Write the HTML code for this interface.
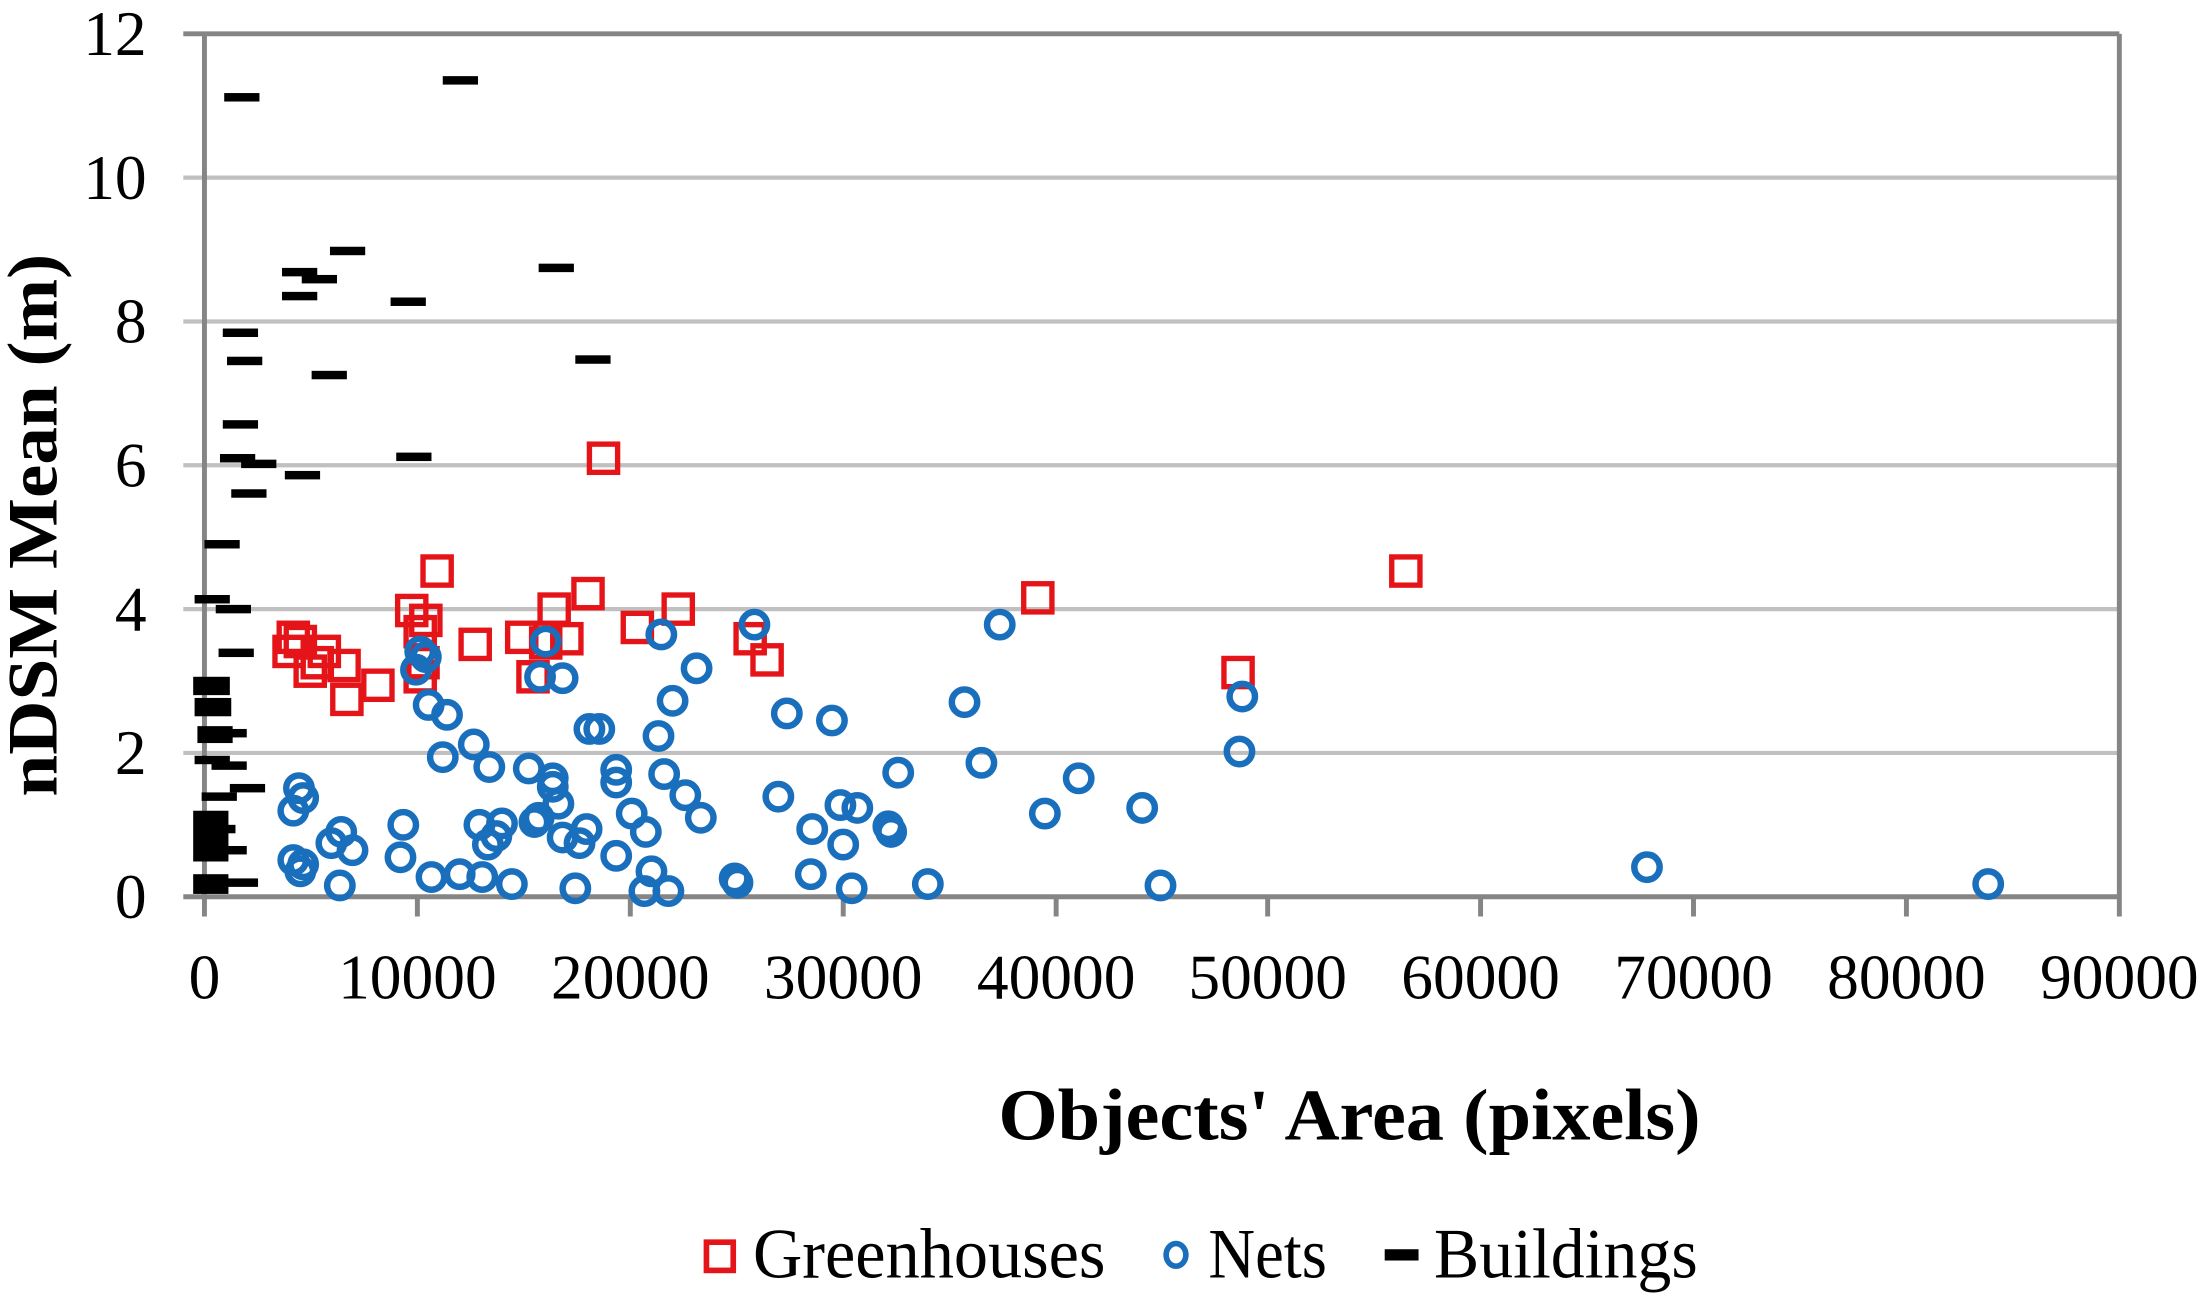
<!DOCTYPE html>
<html><head><meta charset="utf-8"><style>html,body{margin:0;padding:0;background:#fff;}svg{display:block;}</style></head>
<body>
<svg width="2211" height="1300" viewBox="0 0 1568 922" preserveAspectRatio="none" xmlns="http://www.w3.org/2000/svg" font-family="'Liberation Serif', serif">
<rect width="1568" height="922" fill="#fff"/>
<g stroke="#c0c0c0" stroke-width="3">
<line x1="130" y1="534" x2="1503" y2="534"/>
<line x1="130" y1="432" x2="1503" y2="432"/>
<line x1="130" y1="330" x2="1503" y2="330"/>
<line x1="130" y1="228" x2="1503" y2="228"/>
<line x1="130" y1="126" x2="1503" y2="126"/>
</g>
<g stroke="#858585" stroke-width="3.5">
<line x1="130" y1="24" x2="1503" y2="24"/>
<line x1="1503" y1="24" x2="1503" y2="650"/>
<line x1="130" y1="636" x2="1503" y2="636"/>
<line x1="145" y1="24" x2="145" y2="650"/>
<line x1="296" y1="636" x2="296" y2="650"/><line x1="447" y1="636" x2="447" y2="650"/><line x1="598" y1="636" x2="598" y2="650"/><line x1="749" y1="636" x2="749" y2="650"/><line x1="899" y1="636" x2="899" y2="650"/><line x1="1050" y1="636" x2="1050" y2="650"/><line x1="1201" y1="636" x2="1201" y2="650"/><line x1="1352" y1="636" x2="1352" y2="650"/>
</g>
<g font-size="45" text-anchor="end" fill="#000">
<text x="104" y="651">0</text><text x="104" y="549">2</text><text x="104" y="447">4</text><text x="104" y="345">6</text><text x="104" y="243">8</text><text x="104" y="141">10</text><text x="104" y="39">12</text>
</g>
<g font-size="45" text-anchor="middle" fill="#000">
<text x="145" y="708">0</text><text x="296" y="708">10000</text><text x="447" y="708">20000</text><text x="598" y="708">30000</text><text x="749" y="708">40000</text><text x="899" y="708">50000</text><text x="1050" y="708">60000</text><text x="1201" y="708">70000</text><text x="1352" y="708">80000</text><text x="1503" y="708">90000</text>
</g>
<text x="708" y="808" font-size="52" font-weight="bold" textLength="498" lengthAdjust="spacingAndGlyphs">Objects' Area (pixels)</text>
<text transform="translate(40,565) rotate(-90)" font-size="50" font-weight="bold" textLength="385" lengthAdjust="spacingAndGlyphs">nDSM Mean (m)</text>
<!-- Buildings -->
<g fill="#000">
<rect x="159" y="66" width="25" height="6"/><rect x="314" y="54" width="25" height="6"/><rect x="200" y="190" width="25" height="6"/><rect x="214" y="195" width="25" height="6"/><rect x="200" y="207" width="25" height="6"/><rect x="234" y="175" width="25" height="6"/><rect x="277" y="211" width="25" height="6"/><rect x="382" y="187" width="25" height="6"/><rect x="221" y="263" width="25" height="6"/><rect x="408" y="252" width="25" height="6"/><rect x="158" y="233" width="25" height="6"/><rect x="161" y="253" width="25" height="6"/><rect x="158" y="298" width="25" height="6"/><rect x="156" y="322" width="25" height="6"/><rect x="171" y="326" width="25" height="6"/><rect x="164" y="347" width="25" height="6"/><rect x="202" y="334" width="25" height="6"/><rect x="281" y="321" width="25" height="6"/><rect x="145" y="383" width="25" height="6"/><rect x="138" y="422" width="25" height="6"/><rect x="153" y="429" width="25" height="6"/><rect x="155" y="460" width="25" height="6"/>
<rect x="137" y="480" width="26" height="13"/><rect x="138" y="495" width="26" height="13"/><rect x="140" y="515" width="25" height="12"/><rect x="138" y="536" width="25" height="6"/><rect x="150" y="540" width="25" height="6"/><rect x="155" y="517" width="20" height="6"/><rect x="163" y="556" width="25" height="6"/><rect x="143" y="562" width="25" height="6"/><rect x="137" y="575" width="25" height="36"/><rect x="150" y="600" width="25" height="6"/><rect x="137" y="620" width="25" height="14"/><rect x="158" y="623" width="25" height="6"/><rect x="145" y="585" width="22" height="6"/>
</g>
<!-- Greenhouses -->
<g fill="none" stroke="#e51418" stroke-width="3.8">
<rect x="418" y="315" width="20" height="20"/><rect x="300" y="395" width="20" height="20"/><rect x="987" y="395" width="20" height="20"/><rect x="726" y="414" width="20" height="20"/><rect x="407" y="411" width="20" height="20"/><rect x="471" y="422" width="20" height="20"/><rect x="383" y="422" width="20" height="20"/><rect x="282" y="423" width="20" height="20"/><rect x="292" y="430" width="20" height="20"/><rect x="288" y="438" width="20" height="20"/><rect x="442" y="435" width="20" height="20"/><rect x="198" y="442" width="20" height="20"/><rect x="203" y="445" width="20" height="20"/><rect x="360" y="442" width="20" height="20"/><rect x="392" y="443" width="20" height="20"/><rect x="377" y="446" width="20" height="20"/><rect x="327" y="447" width="20" height="20"/><rect x="195" y="452" width="20" height="20"/><rect x="220" y="452" width="20" height="20"/><rect x="215" y="460" width="20" height="20"/><rect x="234" y="462" width="20" height="20"/><rect x="522" y="443" width="20" height="20"/><rect x="534" y="458" width="20" height="20"/><rect x="868" y="467" width="20" height="20"/><rect x="368" y="470" width="20" height="20"/><rect x="258" y="476" width="20" height="20"/><rect x="290" y="460" width="20" height="20"/><rect x="236" y="486" width="20" height="20"/><rect x="288" y="470" width="20" height="20"/><rect x="210" y="466" width="20" height="20"/>
</g>
<!-- Nets -->
<g fill="none" stroke="#1a6fbd" stroke-width="4.6">
<circle cx="535" cy="443" r="9"/><circle cx="709" cy="443" r="9"/><circle cx="469" cy="450" r="9"/><circle cx="387" cy="455" r="9"/><circle cx="298" cy="462" r="9"/><circle cx="302" cy="466" r="9"/><circle cx="494" cy="474" r="9"/><circle cx="383" cy="480" r="9"/><circle cx="399" cy="481" r="9"/><circle cx="295" cy="475" r="9"/><circle cx="684" cy="498" r="9"/><circle cx="881" cy="494" r="9"/><circle cx="304" cy="500" r="9"/><circle cx="317" cy="507" r="9"/><circle cx="558" cy="506" r="9"/><circle cx="590" cy="511" r="9"/><circle cx="477" cy="497" r="9"/><circle cx="418" cy="517" r="9"/><circle cx="425" cy="517" r="9"/><circle cx="467" cy="522" r="9"/><circle cx="336" cy="528" r="9"/><circle cx="879" cy="533" r="9"/><circle cx="314" cy="537" r="9"/><circle cx="347" cy="544" r="9"/><circle cx="637" cy="548" r="9"/><circle cx="696" cy="541" r="9"/><circle cx="375" cy="545" r="9"/><circle cx="437" cy="546" r="9"/><circle cx="471" cy="549" r="9"/><circle cx="212" cy="559" r="9"/><circle cx="392" cy="552" r="9"/><circle cx="392" cy="558" r="9"/><circle cx="437" cy="555" r="9"/><circle cx="765" cy="552" r="9"/><circle cx="552" cy="565" r="9"/><circle cx="486" cy="564" r="9"/><circle cx="215" cy="566" r="9"/><circle cx="596" cy="571" r="9"/><circle cx="608" cy="573" r="9"/><circle cx="208" cy="575" r="9"/><circle cx="497" cy="580" r="9"/><circle cx="448" cy="577" r="9"/><circle cx="741" cy="577" r="9"/><circle cx="810" cy="573" r="9"/><circle cx="382" cy="580" r="9"/><circle cx="379" cy="583" r="9"/><circle cx="340" cy="585" r="9"/><circle cx="356" cy="584" r="9"/><circle cx="352" cy="593" r="9"/><circle cx="576" cy="588" r="9"/><circle cx="399" cy="594" r="9"/><circle cx="411" cy="598" r="9"/><circle cx="630" cy="586" r="9"/><circle cx="632" cy="590" r="9"/><circle cx="458" cy="590" r="9"/><circle cx="242" cy="590" r="9"/><circle cx="235" cy="598" r="9"/><circle cx="250" cy="603" r="9"/><circle cx="598" cy="599" r="9"/><circle cx="286" cy="585" r="9"/><circle cx="284" cy="608" r="9"/><circle cx="437" cy="607" r="9"/><circle cx="208" cy="610" r="9"/><circle cx="215" cy="613" r="9"/><circle cx="213" cy="618" r="9"/><circle cx="462" cy="618" r="9"/><circle cx="1168" cy="615" r="9"/><circle cx="306" cy="622" r="9"/><circle cx="326" cy="620" r="9"/><circle cx="342" cy="622" r="9"/><circle cx="363" cy="627" r="9"/><circle cx="408" cy="630" r="9"/><circle cx="521" cy="623" r="9"/><circle cx="523" cy="626" r="9"/><circle cx="575" cy="620" r="9"/><circle cx="658" cy="627" r="9"/><circle cx="823" cy="628" r="9"/><circle cx="1410" cy="627" r="9"/><circle cx="604" cy="630" r="9"/><circle cx="241" cy="628" r="9"/><circle cx="457" cy="632" r="9"/><circle cx="474" cy="632" r="9"/><circle cx="346" cy="599" r="9"/><circle cx="396" cy="570" r="9"/><circle cx="416" cy="588" r="9"/>
</g>
<!-- Legend -->
<rect x="501" y="881" width="19" height="20" fill="none" stroke="#e51418" stroke-width="4"/>
<ellipse cx="834" cy="890" rx="7" ry="8" fill="none" stroke="#1a6fbd" stroke-width="4"/>
<rect x="982" y="886" width="24" height="8" fill="#000"/>
<g font-size="50" fill="#000">
<text x="534" y="906" textLength="250" lengthAdjust="spacingAndGlyphs">Greenhouses</text>
<text x="857" y="906" textLength="84" lengthAdjust="spacingAndGlyphs">Nets</text>
<text x="1017" y="906" textLength="187" lengthAdjust="spacingAndGlyphs">Buildings</text>
</g>
</svg>
</body></html>
